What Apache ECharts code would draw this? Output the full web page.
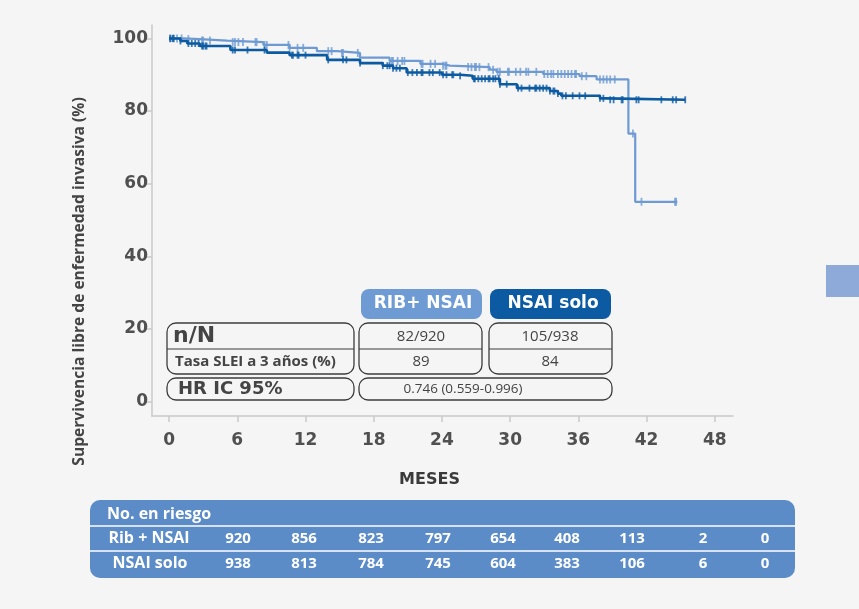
<!DOCTYPE html>
<html><head><meta charset="utf-8">
<script src="https://cdn.jsdelivr.net/npm/echarts@6/dist/echarts.min.js"></script>
<style>html,body{margin:0;padding:0;background:#f5f5f5;}#c{width:859px;height:609px;}</style>
</head><body><div id="c"></div>
<script>
// ---- Data ----
const xTicks = [0, 6, 12, 18, 24, 30, 36, 42, 48];
const yTicks = [0, 20, 40, 60, 80, 100];

const ribTimes = [0, 1.2, 2.7, 5.1, 8.3, 10.6, 13.0, 14.8, 16.8, 19.4, 22.1, 24.0, 24.7, 28.2, 28.8, 32.9, 36.1, 37.6, 40.4, 41.0, 44.7];
const ribSurv  = [100, 99.8, 99.4, 99.0, 98.2, 97.4, 96.5, 96.0, 94.7, 93.8, 93.0, 92.5, 92.1, 91.4, 90.8, 90.2, 89.6, 88.7, 73.8, 55.0, 55.0];
const ribCensor = [0.1,0.4,0.7,1.1,1.7,2.9,3.0,3.6,5.6,5.8,6.1,6.5,7.6,7.7,8.4,8.6,10.5,10.6,11.3,11.8,14.0,14.3,15.2,15.3,16.6,19.6,19.7,20.1,20.5,20.7,22.2,22.3,23.0,23.4,24.1,24.3,24.4,26.3,26.6,26.9,27.0,27.3,28.1,28.5,28.9,29.1,29.8,29.9,30.5,30.9,31.4,31.6,32.3,33.0,33.3,33.6,33.8,34.2,34.5,34.8,35.1,35.4,35.7,35.8,36.3,36.7,37.9,38.2,38.5,38.8,39.2,40.8,41.55,44.5,44.6];

const nsaiTimes = [0, 1.0, 1.6, 2.7, 5.4, 8.6, 10.6, 13.9, 16.8, 18.8, 19.7, 20.9, 24.0, 25.6, 26.7, 29.1, 30.6, 33.5, 34.2, 34.5, 37.9, 38.5, 45.4];
const nsaiSurv  = [100, 99.3, 98.6, 97.9, 96.8, 96.1, 95.4, 94.1, 93.2, 92.5, 91.8, 90.6, 90.0, 89.7, 88.9, 87.4, 86.3, 85.5, 84.8, 84.2, 83.5, 83.1, 83.1];
const nsaiCensor = [0.1,0.3,0.4,1.0,1.7,2.0,2.3,2.6,2.9,3.0,3.2,3.3,5.6,5.8,6.9,8.4,10.8,10.9,11.3,11.4,12.0,14.0,15.3,15.6,16.8,18.8,19.2,19.4,19.7,20.0,20.3,21.0,21.4,21.8,22.2,22.3,22.9,23.2,23.8,24.1,24.4,24.9,25.0,25.6,26.8,26.9,27.2,27.5,27.8,28.1,28.2,28.5,28.7,29.0,29.1,29.7,30.7,31.0,31.7,32.2,32.3,32.6,32.9,33.2,33.5,33.8,33.9,34.2,34.6,34.9,35.5,36.1,36.6,37.9,38.2,38.8,39.1,39.8,39.9,41.1,41.3,43.3,44.3,44.6,45.4];

const riskHeader = 'No. en riesgo';
const riskGroups = ['Rib + NSAI', 'NSAI solo'];
const riskRib  = [920, 856, 823, 797, 654, 408, 113, 2, 0];
const riskNsai = [938, 813, 784, 745, 604, 383, 106, 6, 0];

const groupLabels = ['RIB+ NSAI', 'NSAI solo'];
const nN = ['82/920', '105/938'];
const rate3y = ['89', '84'];
const hrText = '0.746 (0.559-0.996)';

const yTitle = 'Supervivencia libre de enfermedad invasiva (%)';
const xTitle = 'MESES';

// ---- Helpers ----
const LIGHT = '#6d9ad3', DARK = '#0b5aa2';
function stepVal(times, surv, t) {
  let v = surv[0];
  for (let i = 0; i < times.length; i++) { if (times[i] <= t) v = surv[i]; }
  return v;
}
const ribLine = ribTimes.map((t, i) => [t, ribSurv[i]]);
const nsaiLine = nsaiTimes.map((t, i) => [t, nsaiSurv[i]]);
const ribMarks = ribCensor.map(t => [t, stepVal(ribTimes, ribSurv, t)]);
const nsaiMarks = nsaiCensor.map(t => [t, stepVal(nsaiTimes, nsaiSurv, t)]);

const chart = echarts.init(document.getElementById('c'), null, {renderer: 'canvas'});

const AX = '#c9c9c9', LBL = '#505050', BOX = '#3c3c3c';
const FF = '"Open Sans", sans-serif';
const FFB = '"DejaVu Sans", sans-serif';

const G = [];
function rbox(x, y, w, h, r) { return {type: 'rect', shape: {x, y, width: w, height: h, r}, style: {fill: 'rgba(0,0,0,0)', stroke: BOX, lineWidth: 1.3}, z: 50}; }
function txt(x, y, text, size, weight, color, align, family) {
  return {type: 'text', x, y, style: {text, fill: color, font: weight + ' ' + size + 'px ' + (family || FF), textAlign: align || 'left', textVerticalAlign: 'middle'}, z: 60};
}
G.push({type: 'rect', shape: {x: 361, y: 289, width: 121, height: 30, r: 8}, style: {fill: '#6f9bd4'}, z: 50});
G.push({type: 'rect', shape: {x: 490, y: 289, width: 121, height: 30, r: 8}, style: {fill: DARK}, z: 50});
G.push(txt(423, 304, groupLabels[0], 17, 'bold', '#ffffff', 'center', FFB));
G.push(txt(553, 304, groupLabels[1], 17, 'bold', '#ffffff', 'center', FFB));

G.push(rbox(167, 323, 187, 51, 9));
G.push(rbox(359, 323, 123, 51, 9));
G.push(rbox(489, 323, 123, 51, 9));
[[167, 354], [359, 482], [489, 612]].forEach(([a, b]) => {
  G.push({type: 'line', shape: {x1: a, y1: 349, x2: b, y2: 349}, style: {stroke: BOX, lineWidth: 1.2}, z: 50});
});
G.push(rbox(167, 378, 187, 22, 9));
G.push(rbox(359, 378, 253, 22, 9));
G.push(txt(173, 336.5, 'n/N', 22, 'bold', '#444', 'left', FFB));
G.push(txt(175, 361.5, 'Tasa SLEI a 3 años (%)', 15, 'bold', '#444'));
G.push(txt(421, 337, nN[0], 15, 'normal', '#444', 'center'));
G.push(txt(550, 337, nN[1], 15, 'normal', '#444', 'center'));
G.push(txt(421, 361.5, rate3y[0], 15, 'normal', '#444', 'center'));
G.push(txt(550, 361.5, rate3y[1], 15, 'normal', '#444', 'center'));
G.push(txt(178, 389, 'HR IC 95%', 18, 'bold', '#444', 'left', FFB));
G.push(txt(463, 389, hrText, 13.5, 'normal', '#444', 'center'));

// axis titles
G.push({type: 'text', x: 80, y: 281.5, rotation: Math.PI / 2, style: {text: yTitle, fill: '#444', font: 'bold 15.6px ' + FF, textAlign: 'center', textVerticalAlign: 'middle'}, z: 60});
G.push(txt(429.5, 480, xTitle, 16, 'bold', '#3a3a3a', 'center', FFB));

// right side square
G.push({type: 'rect', shape: {x: 826, y: 265, width: 33, height: 32}, style: {fill: '#8eaad9'}, z: 10});

// at-risk table
G.push({type: 'rect', shape: {x: 90, y: 500, width: 705, height: 78, r: 10}, style: {fill: '#5b8cc8'}, z: 10});
G.push({type: 'line', shape: {x1: 90, y1: 526, x2: 795, y2: 526}, style: {stroke: '#ffffff', lineWidth: 1.5}, z: 11});
G.push({type: 'line', shape: {x1: 90, y1: 551, x2: 795, y2: 551}, style: {stroke: '#ffffff', lineWidth: 1.5}, z: 11});
G.push(txt(107, 514, riskHeader, 16, 'bold', '#ffffff'));
G.push(txt(149, 538.5, riskGroups[0], 16, 'bold', '#ffffff', 'center'));
G.push(txt(150, 563.5, riskGroups[1], 16, 'bold', '#ffffff', 'center'));
const riskX = [238, 304, 371, 438, 503, 567, 632, 703, 765];
riskRib.forEach((v, i) => G.push(txt(riskX[i], 538.5, String(v), 15, 'bold', '#ffffff', 'center')));
riskNsai.forEach((v, i) => G.push(txt(riskX[i], 563.5, String(v), 15, 'bold', '#ffffff', 'center')));

chart.setOption({
  backgroundColor: '#f5f5f5',
  animation: false,
  grid: {left: 152, top: 25, width: 581, height: 391, containLabel: false, outerBoundsMode: 'none'},
  xAxis: {
    type: 'value', min: -1.5, max: 49.6,
    axisLine: {show: true, onZero: false, lineStyle: {color: AX, width: 1.5}},
    axisTick: {show: true, length: 6, customValues: xTicks, lineStyle: {color: AX, width: 1.5}},
    axisLabel: {customValues: xTicks, margin: 16, color: LBL, fontSize: 17, fontWeight: 'bold', fontFamily: FFB},
    splitLine: {show: false}
  },
  yAxis: {
    type: 'value', min: -4, max: 103.7,
    axisLine: {show: true, onZero: false, lineStyle: {color: AX, width: 1.5}},
    axisTick: {show: true, length: 6, customValues: yTicks, lineStyle: {color: AX, width: 1.5}},
    axisLabel: {customValues: yTicks, margin: 4, color: LBL, fontSize: 17, fontWeight: 'bold', fontFamily: FFB},
    splitLine: {show: false}
  },
  series: [
    {type: 'line', step: 'end', data: ribLine, showSymbol: false, lineStyle: {color: LIGHT, width: 2.2}, z: 3},
    {type: 'line', step: 'end', data: nsaiLine, showSymbol: false, lineStyle: {color: DARK, width: 2.6}, z: 4},
    {type: 'scatter', data: ribMarks, symbol: 'rect', symbolSize: [1.8, 8], itemStyle: {color: LIGHT}, z: 3},
    {type: 'scatter', data: nsaiMarks, symbol: 'rect', symbolSize: [1.8, 7], itemStyle: {color: DARK}, z: 4}
  ],
  graphic: G
});
</script></body></html>
